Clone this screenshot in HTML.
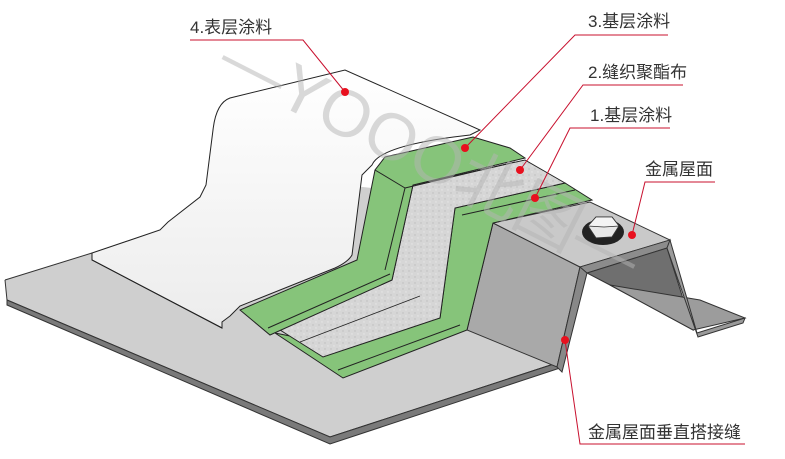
<!DOCTYPE html>
<html><head><meta charset="utf-8"><style>
html,body{margin:0;padding:0;background:#fff;}
svg{display:block}
text{font-family:"Liberation Sans","Noto Sans CJK SC",sans-serif;font-size:17px;fill:#333}
</style></head><body>
<svg width="785" height="459" viewBox="0 0 785 459" xmlns="http://www.w3.org/2000/svg">
<defs>
<linearGradient id="wg" x1="0" y1="0" x2="0" y2="1"><stop offset="0" stop-color="#ffffff"/><stop offset="1" stop-color="#ececec"/></linearGradient>
<pattern id="sp" width="6" height="6" patternUnits="userSpaceOnUse"><rect width="6" height="6" fill="#d6d6d6"/><circle cx="1" cy="1" r="0.7" fill="#bdbdbd"/><circle cx="4" cy="4" r="0.7" fill="#e8e8e8"/></pattern>
</defs>
<!-- base plate -->
<polygon points="5,280 92,253 300,180 480,200 560,362 330,437 7,300" fill="#cfcfcf"/>
<polyline points="5,280 92,253" fill="none" stroke="#333"/>
<polyline points="5,280 7,300 330,437 560,362" fill="none" stroke="#333"/>
<polygon points="7,300 330,437 560,362 560,368 330,444 7,305" fill="#7a7a7a" stroke="#333" stroke-width="1"/>
<!-- metal panel -->
<polygon points="467,330 493,223 580,267 557,367" fill="#a9a9a9" stroke="#333" stroke-width="1"/>
<polygon points="493,223 590,202 670,240 580,267" fill="#c9c9c9" stroke="#333" stroke-width="1"/>
<polygon points="580,267 670,240 667,248 587,273" fill="#8c8c8c" stroke="#333" stroke-width="0.8"/>
<polygon points="587,273 667,248 693,330 610,285" fill="#6f6f6f" stroke="#333" stroke-width="1"/>
<polygon points="610,285 693,330 745,318 700,300" fill="#9c9c9c" stroke="#333" stroke-width="1"/>
<polygon points="670,240 697,333 745,318 743,323 698,337 667,248" fill="#9a9a9a" stroke="#333" stroke-width="1"/>
<polygon points="580,267 587,273 562,372 557,367" fill="#888" stroke="#333" stroke-width="1"/>
<!-- bolt -->
<ellipse cx="603" cy="232" rx="21" ry="13" fill="#222"/>
<polygon points="588,226 596,217 612,217 619,226 612,237 596,238" fill="#e8e8e8" stroke="#333"/>
<polygon points="588,226 596,217 612,217 619,226 604,227" fill="#f4f4f4" stroke="#333" stroke-width="0.8"/>
<!-- green layer 1 -->
<polygon points="275,333 343,378 467,330 493,223 592,200 565,183 455,208 440,318 335,345" fill="#86c47a" stroke="#222" stroke-width="1"/>
<line x1="462" y1="215" x2="575" y2="190" stroke="#222"/>
<line x1="338" y1="370" x2="460" y2="325" stroke="#222"/>
<!-- fabric layer 2 -->
<polygon points="280,330 323,357 440,318 455,208 565,183 525,160 413,185 392,280" fill="url(#sp)" stroke="#222" stroke-width="1"/>
<line x1="300" y1="342" x2="420" y2="296" stroke="#222" stroke-width="0.8"/>
<!-- green layer 3 -->
<polygon points="240,310 270,335 392,280 413,185 525,158 510,148 473,137 385,157 375,170 357,260" fill="#86c47a" stroke="#222" stroke-width="1"/>
<line x1="268" y1="328" x2="390" y2="274" stroke="#222"/>
<line x1="375" y1="170" x2="405" y2="188" stroke="#222"/>
<line x1="405" y1="188" x2="515" y2="162" stroke="#222"/>
<line x1="405" y1="188" x2="385" y2="270" stroke="#222"/>
<!-- white top layer -->
<path d="M92,253 L160,230 L168,222 L200,197 L206,185 L213,130 Q216,103 230,98 L345,70 L480,130 L470,135 Q380,145 372,165 L362,175 L352,255 Q348,262 335,268 L240,306 L230,316 L222,322 L222,328 L92,260 Z" fill="url(#wg)" stroke="#222" stroke-width="1"/>
<polyline points="92,253 92,260 222,328" fill="none" stroke="#222"/>
<!-- watermark -->
<text x="215" y="72" transform="rotate(27 215 72)" style="font-size:66px;fill:#b5b5b5;opacity:0.5">—YOOO北图—</text>
<!-- leaders -->
<g stroke="#c8102e" stroke-width="1" fill="none">
<polyline points="190,40 303,40 345,92"/>
<polyline points="668,35 575,35 465,148"/>
<polyline points="683,85 583,85 520,170"/>
<polyline points="670,128 570,128 535,198"/>
<polyline points="715,182 645,182 632,235"/>
<polyline points="745,444 580,444 565,340"/>
</g>
<g fill="#e8101e">
<circle cx="345" cy="92" r="4"/><circle cx="465" cy="148" r="4"/><circle cx="520" cy="170" r="4"/>
<circle cx="535" cy="198" r="4"/><circle cx="632" cy="235" r="4"/><circle cx="565" cy="340" r="4"/>
</g>
<text x="190" y="33">4.表层涂料</text>
<text x="588" y="27">3.基层涂料</text>
<text x="588" y="78">2.缝织聚酯布</text>
<text x="590" y="121">1.基层涂料</text>
<text x="645" y="175">金属屋面</text>
<text x="588" y="438">金属屋面垂直搭接缝</text>
</svg>
</body></html>
